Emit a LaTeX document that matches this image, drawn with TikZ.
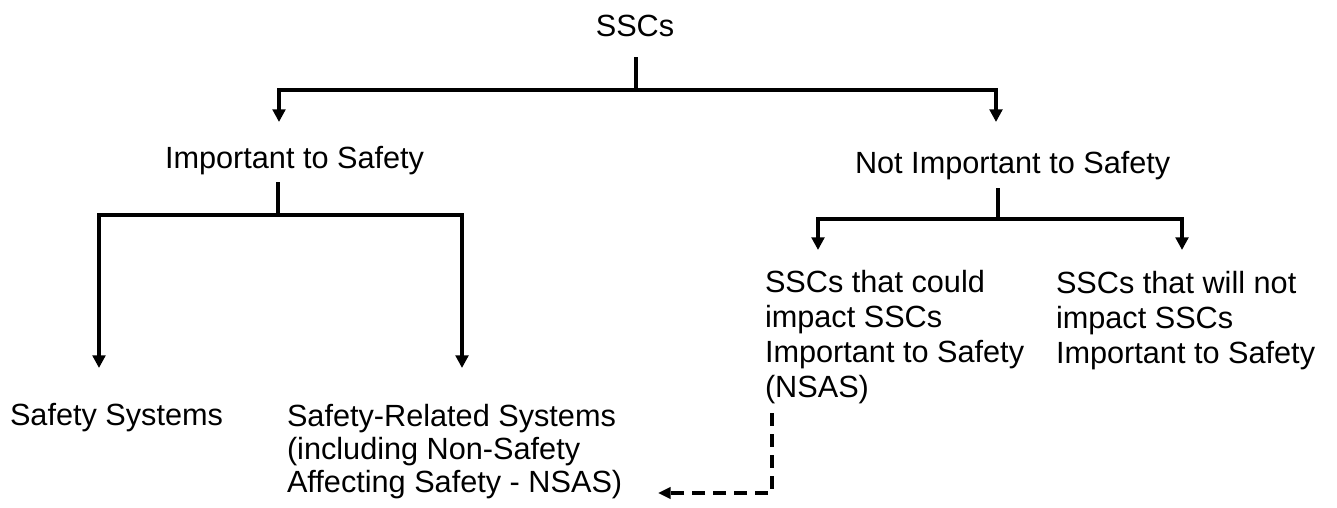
\documentclass[tikz,border=0pt]{standalone}
\usepackage{fontspec}
\setmainfont{Liberation Sans}
\usetikzlibrary{arrows.meta}
\begin{document}
\begin{tikzpicture}[x=0.75pt,y=-0.75pt,
  lbl/.style={inner sep=0pt, outer sep=0pt, font=\fontsize{23pt}{26.25pt}\selectfont, align=left},
  lblL/.style={lbl, font=\fontsize{23pt}{24.75pt}\selectfont},
  conn/.style={line width=3pt},
  arr/.style={conn, -{Triangle[width=9.5pt,length=9.5pt]}},
  darr/.style={line width=3pt, dash pattern=on 9.75pt off 6pt, -{Triangle[width=8.5pt,length=9.5pt]}}
]
\useasboundingbox (0,0) rectangle (1337,507);
% texts (base anchor = baseline of the last line)
\node[lbl, anchor=base] (ssc) at (635,36) {SSCs};
\node[lbl, anchor=base west] (its) at (165,168) {Important to Safety};
\node[lbl, anchor=base west] (nits) at (855,173) {Not Important to Safety};
\node[lbl, anchor=base west] (ss) at (10,425) {Safety Systems};
\node[lblL, anchor=base west] (sr) at (287,492) {Safety-Related Systems\\(including Non-Safety\\Affecting Safety - NSAS)};
\node[lbl, anchor=base west] (nsas) at (765,397) {SSCs that could\\impact SSCs\\Important to Safety\\(NSAS)};
\node[lbl, anchor=base west] (nimp) at (1056,363) {SSCs that will not\\impact SSCs\\Important to Safety};
% junction coordinates
\coordinate (j0a) at (636,57);
\coordinate (j0) at (636,90);
\coordinate (e1) at (279,122);
\coordinate (e2) at (996,122);
\coordinate (j1a) at (278,182);
\coordinate (j1) at (278,215);
\coordinate (e3) at (99,368);
\coordinate (e4) at (462,368);
\coordinate (j2a) at (998,188);
\coordinate (j2) at (998,219);
\coordinate (e5) at (818,250);
\coordinate (e6) at (1182,250);
\coordinate (d0) at (772,413);
\coordinate (d1) at (772,493);
\coordinate (d2) at (658,493);
% connectors
\draw[conn] (j0a) -- (j0);
\draw[arr] (j0) -| (e1);
\draw[arr] (j0) -| (e2);
\draw[conn] (j1a) -- (j1);
\draw[arr] (j1) -| (e3);
\draw[arr] (j1) -| (e4);
\draw[conn] (j2a) -- (j2);
\draw[arr] (j2) -| (e5);
\draw[arr] (j2) -| (e6);
\draw[darr] (d0) -- (d1) -- (d2);
\end{tikzpicture}
\end{document}
